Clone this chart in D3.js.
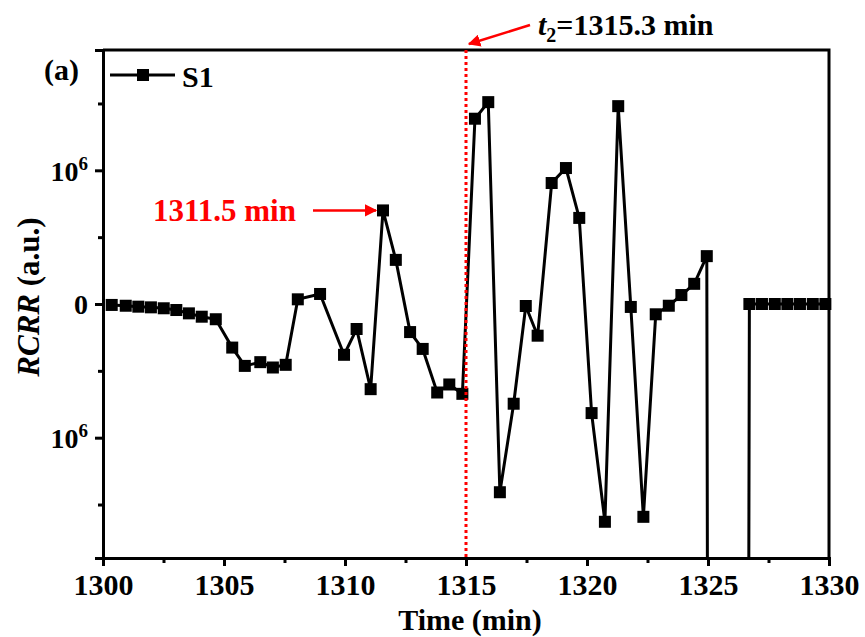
<!DOCTYPE html>
<html>
<head>
<meta charset="utf-8">
<script src="https://cdn.jsdelivr.net/npm/d3@7"></script>
<style>
  body { margin: 0; background: #fff; }
  text { font-family: "Liberation Serif", "Times New Roman", serif; font-weight: bold; }
</style>
</head>
<body>
<svg id="chart"></svg>
<script>
  // time (min) and RCRR (in units of 10^6)
  const times = [1300.36, 1300.94, 1301.46, 1301.98, 1302.51, 1303.03, 1303.55, 1304.08, 1304.66,
    1305.34, 1305.86, 1306.5, 1307.02, 1307.55, 1308.05, 1308.97, 1309.96, 1310.48, 1311.06,
    1311.57, 1312.1, 1312.69, 1313.21, 1313.81, 1314.31, 1314.85, 1315.37, 1315.92, 1316.40,
    1316.97, 1317.47, 1317.96, 1318.54, 1319.13, 1319.68, 1320.19, 1320.74, 1321.29, 1321.81,
    1322.33, 1322.84, 1323.38, 1323.90, 1324.43, 1324.95, 1325.5, 1326.1, 1326.71, 1327.23,
    1327.76, 1328.28, 1328.80, 1329.33, 1329.85];
  // the two points near 1325.5-1326.1 are far off scale (below the axis)
  const rcrr = [-0.007, -0.013, -0.02, -0.025, -0.032, -0.045, -0.07, -0.095, -0.114,
    -0.326, -0.463, -0.435, -0.475, -0.455, 0.035, 0.075, -0.38, -0.187, -0.637,
    0.70, 0.33, -0.21, -0.336, -0.662, -0.602, -0.672, 1.386, 1.510, -1.408,
    -0.746, -0.015, -0.237, 0.905, 1.017, 0.644, -0.816, -1.629, 1.480, -0.022,
    -1.592, -0.077, -0.013, 0.067, 0.151, 0.358, -50, -50, 0, 0,
    0, 0, 0, 0, 0];

  const xTicks = [1300, 1305, 1310, 1315, 1320, 1325, 1330];
  const yTicks = [-1, 0, 1];
  const yTickLabels = ["10", "0", "10"];
  const t2 = 1315.0;
  const peak = 1311.57;

  const width = 865, height = 637;
  const m = {left: 103, right: 36, top: 50, bottom: 79};

  var svg = d3.select("#chart").attr("width", width).attr("height", height);

  var x = d3.scaleLinear().domain([1300, 1330]).range([m.left, width - m.right]);
  var y = d3.scaleLinear().domain([-1.9, 1.9]).range([height - m.bottom, m.top]);

  var pts = times.map((t, i) => ({t: t, v: rcrr[i]}));

  svg.append("defs").append("clipPath").attr("id", "clip")
    .append("rect")
    .attr("x", m.left).attr("y", m.top)
    .attr("width", width - m.left - m.right)
    .attr("height", height - m.top - m.bottom);

  var arrow = svg.select("defs").append("marker")
    .attr("id", "arr").attr("viewBox", "0 0 10 10")
    .attr("refX", 9).attr("refY", 5)
    .attr("markerWidth", 5).attr("markerHeight", 5)
    .attr("markerUnits", "strokeWidth")
    .attr("orient", "auto");
  arrow.append("path").attr("d", "M0,0 L10,5 L0,10 z").attr("fill", "#f00");

  // x axis
  var xAxis = svg.append("g")
    .attr("transform", `translate(0,${height - m.bottom})`)
    .call(d3.axisBottom(x).tickValues(xTicks).tickSize(8).tickPadding(8).tickFormat(d3.format("d")));
  svg.append("g")
    .attr("transform", `translate(0,${height - m.bottom})`)
    .call(d3.axisBottom(x).tickValues(d3.range(1302.5, 1330, 5)).tickSize(5).tickFormat(""))
    .call(g => g.select(".domain").remove());

  // y axis
  var yAxis = svg.append("g")
    .attr("transform", `translate(${m.left},0)`)
    .call(d3.axisLeft(y).tickValues(yTicks).tickSize(8).tickPadding(10).tickFormat(""));
  svg.append("g")
    .attr("transform", `translate(${m.left},0)`)
    .call(d3.axisLeft(y).tickValues([-1.5, -0.5, 0.5, 1.5]).tickSize(5).tickFormat(""))
    .call(g => g.select(".domain").remove());

  svg.selectAll(".tick line").attr("stroke", "#000").attr("stroke-width", 3);
  svg.selectAll(".domain").attr("stroke-width", 3);
  xAxis.selectAll("text").attr("font-size", 30).attr("fill", "#000")
    .attr("font-family", "Liberation Serif").attr("font-weight", "bold");

  yAxis.selectAll(".tick").each(function(d, i) {
    var lab = d3.select(this).append("text")
      .attr("x", -15).attr("dy", "0.35em")
      .attr("text-anchor", "end")
      .attr("font-size", 28).attr("fill", "#000");
    lab.append("tspan").text(yTickLabels[i]);
    if (d !== 0) {
      lab.append("tspan").attr("font-size", 19).attr("dy", -11).text("6");
    }
  });

  // frame (top / right)
  svg.append("path")
    .attr("d", `M${m.left},${m.top} H${width - m.right} V${height - m.bottom}`)
    .attr("fill", "none").attr("stroke", "#000").attr("stroke-width", 3);

  // series
  var line = d3.line().x(d => x(d.t)).y(d => y(d.v));
  svg.append("path")
    .datum(pts)
    .attr("clip-path", "url(#clip)")
    .attr("d", line)
    .attr("fill", "none").attr("stroke", "#000").attr("stroke-width", 3);

  svg.append("g").selectAll("rect")
    .data(pts.filter(d => d.v >= -1.9 && d.v <= 1.9))
    .join("rect")
    .attr("x", d => x(d.t) - 6).attr("y", d => y(d.v) - 6)
    .attr("width", 12).attr("height", 12)
    .attr("fill", "#000");

  // t2 marker line
  svg.append("line")
    .attr("x1", x(t2)).attr("x2", x(t2))
    .attr("y1", m.top).attr("y2", height - m.bottom)
    .attr("stroke", "#f00").attr("stroke-width", 3)
    .attr("stroke-dasharray", "3,3");

  svg.append("line")
    .attr("x1", 530).attr("y1", 25).attr("x2", x(t2) + 3).attr("y2", 44)
    .attr("stroke", "#f00").attr("stroke-width", 2.5)
    .attr("marker-end", "url(#arr)");

  var tl = svg.append("text").attr("x", 538).attr("y", 35).attr("font-size", 30).attr("fill", "#000");
  tl.append("tspan").attr("font-style", "italic").text("t");
  tl.append("tspan").attr("font-size", 20).attr("dy", 7).text("2");
  tl.append("tspan").attr("dy", -7).text("=1315.3 min");

  // peak annotation
  svg.append("text")
    .attr("x", 153).attr("y", y(0.70) + 11)
    .attr("font-size", 31).attr("fill", "#f00")
    .text("1311.5 min");
  svg.append("line")
    .attr("x1", 313).attr("y1", y(0.70)).attr("x2", x(peak) - 7).attr("y2", y(0.70))
    .attr("stroke", "#f00").attr("stroke-width", 2.5)
    .attr("marker-end", "url(#arr)");

  // legend + panel label
  svg.append("line").attr("x1", 110).attr("x2", 175).attr("y1", 75).attr("y2", 75)
    .attr("stroke", "#000").attr("stroke-width", 3);
  svg.append("rect").attr("x", 137).attr("y", 69).attr("width", 12).attr("height", 12).attr("fill", "#000");
  svg.append("text").attr("x", 182).attr("y", 87).attr("font-size", 30).text("S1");
  svg.append("text").attr("x", 44).attr("y", 80).attr("font-size", 30).text("(a)");

  // axis titles
  svg.append("text")
    .attr("x", (m.left + width - m.right) / 2 + 4).attr("y", 630)
    .attr("text-anchor", "middle").attr("font-size", 30)
    .text("Time (min)");

  var yt = svg.append("text")
    .attr("transform", `translate(39,${(m.top + height - m.bottom) / 2 - 7}) rotate(-90)`)
    .attr("text-anchor", "middle").attr("font-size", 31);
  yt.append("tspan").attr("font-style", "italic").text("RCRR");
  yt.append("tspan").text(" (a.u.)");
</script>
</body>
</html>
